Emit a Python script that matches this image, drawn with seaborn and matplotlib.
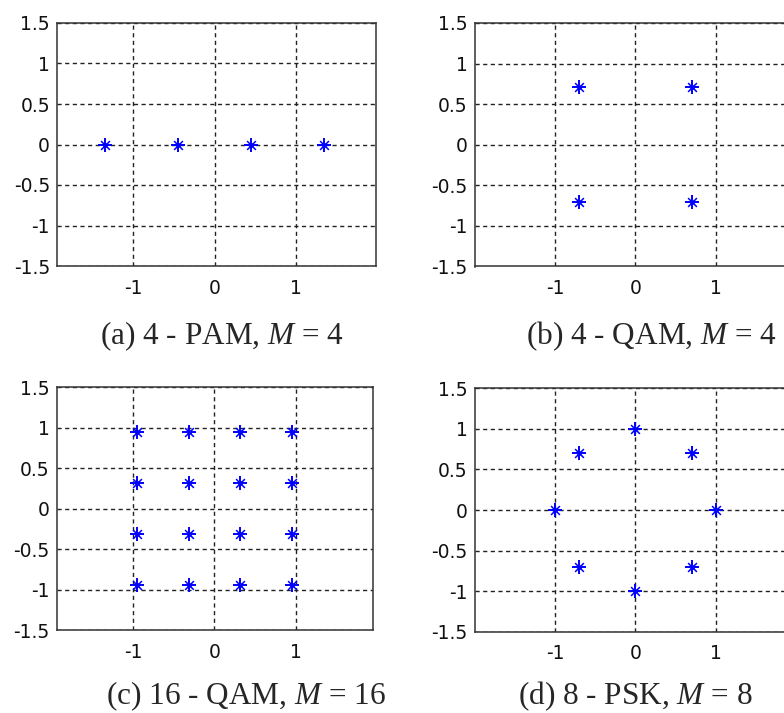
import matplotlib
matplotlib.use('Agg')
import matplotlib.pyplot as plt
import pandas as pd
import seaborn as sns

# --------------------------------------------------------------------------
# constellation points
# --------------------------------------------------------------------------
pam_x = [-1.342, -0.447, 0.447, 1.342]
pam_y = [0.0, 0.0, 0.0, 0.0]

qam4_x = [-0.707, 0.707, -0.707, 0.707]
qam4_y = [0.707, 0.707, -0.707, -0.707]

qam16_x = [-0.949, -0.316, 0.316, 0.949,
           -0.949, -0.316, 0.316, 0.949,
           -0.949, -0.316, 0.316, 0.949,
           -0.949, -0.316, 0.316, 0.949]
qam16_y = [0.949, 0.949, 0.949, 0.949,
           0.316, 0.316, 0.316, 0.316,
           -0.316, -0.316, -0.316, -0.316,
           -0.949, -0.949, -0.949, -0.949]

psk8_x = [1.0, 0.707, 0.0, -0.707, -1.0, -0.707, 0.0, 0.707]
psk8_y = [0.0, 0.707, 1.0, 0.707, 0.0, -0.707, -1.0, -0.707]

captions = [r'(a) 4 - PAM, $M$ = 4', r'(b) 4 - QAM, $M$ = 4',
            r'(c) 16 - QAM, $M$ = 16', r'(d) 8 - PSK, $M$ = 8']

x_ticks = [-1, 0, 1]
y_ticks = [-1.5, -1, -0.5, 0, 0.5, 1, 1.5]
y_ticklabels = ['-1.5', '-1', '-0.5', '0', '0.5', '1', '1.5']

# --------------------------------------------------------------------------
# style
# --------------------------------------------------------------------------
sns.set_style('white')
plt.rcParams['font.family'] = ['DejaVu Sans']
plt.rcParams['axes.unicode_minus'] = False
plt.rcParams['mathtext.fontset'] = 'custom'
plt.rcParams['mathtext.rm'] = 'Liberation Serif'
plt.rcParams['mathtext.it'] = 'Liberation Serif:italic'

W, H = 784, 713
fig = plt.figure(figsize=(W / 100, H / 100), dpi=100)


def px_axes(left, top, right, bottom):
    return fig.add_axes([left / W, 1 - bottom / H, (right - left) / W, (bottom - top) / H])


# (pixel box, xlim) for each panel
panels = [
    ((57, 23, 376, 266), (-1.936, 1.985), pam_x, pam_y),
    ((474.7, 23, 796, 266.5), (-2, 2), qam4_x, qam4_y),
    ((56.7, 387.3, 372.7, 630), (-1.94, 1.947), qam16_x, qam16_y),
    ((474.7, 388.3, 796, 631.7), (-2, 2), psk8_x, psk8_y),
]
caption_pos = [(222, 336), (651, 336), (246, 696), (635, 696)]

for (box, xlim, xs, ys), cap, (cx, cy) in zip(panels, captions, caption_pos):
    ax = px_axes(*box)
    df = pd.DataFrame({'x': xs, 'y': ys})
    # MATLAB '*' marker: plus + cross + centre dot
    sns.scatterplot(data=df, x='x', y='y', marker='+', s=95, color='#0000ff',
                    linewidth=1.4, ax=ax, zorder=3)
    sns.scatterplot(data=df, x='x', y='y', marker='x', s=40, color='#0000ff',
                    linewidth=1.1, ax=ax, zorder=3)
    sns.scatterplot(data=df, x='x', y='y', marker='o', s=12, color='#0000ff',
                    linewidth=0, ax=ax, zorder=4)
    ax.set_xlim(*xlim)
    ax.set_ylim(-1.5, 1.5)
    ax.set_xticks(x_ticks)
    ax.set_xticklabels([str(t) for t in x_ticks])
    ax.set_yticks(y_ticks)
    ax.set_yticklabels(y_ticklabels)
    ax.set_xlabel('')
    ax.set_ylabel('')
    ax.grid(True, color='#222222', linestyle=(0, (3, 2.5)), linewidth=1.0)
    ax.tick_params(axis='both', length=0, labelsize=13.5, colors='#111111')
    ax.tick_params(axis='x', pad=9)
    ax.tick_params(axis='y', pad=5)
    for sp in ax.spines.values():
        sp.set_color('#333333')
        sp.set_linewidth(1.1)
        sp.set_visible(True)
    fig.text(cx / W, 1 - cy / H, cap, ha='center', va='center', fontsize=22.5,
             family='Liberation Serif')

fig.savefig('out.png', dpi=100)
